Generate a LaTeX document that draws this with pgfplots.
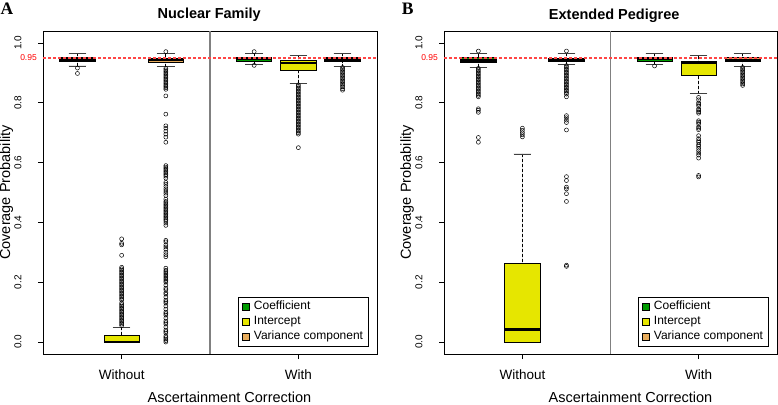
\documentclass[border=0pt]{standalone}
\usepackage{fontspec}
\setmainfont{Liberation Sans}
\newfontfamily\letterfont{Liberation Serif}
\usepackage{graphicx}
\usepackage{pgfplots}
\pgfplotsset{compat=1.18}
\usepgfplotslibrary{statistics}
\definecolor{cgreen}{RGB}{0,155,0}
\definecolor{cyellow}{RGB}{230,230,0}
\definecolor{ctan}{RGB}{232,172,92}
\definecolor{cdiv}{RGB}{128,128,128}
\definecolor{cred}{RGB}{255,70,70}

\pgfplotsset{
  sqleg/.style={legend image code/.code={\draw[##1,line width=0.5pt,solid] (0pt,-3.4pt) rectangle (6.8pt,3.4pt); \path[draw=none,fill=none] (-1pt,0pt) -- (9pt,0pt);}},
  bx/.style={draw=black, solid, line width=0.8pt, mark=o, mark size=2pt,
    mark options={draw=black, solid, line width=0.5pt}, forget plot},
  panel/.style={
    scale only axis, width=334pt, height=323pt,
    xmin=0.22, xmax=7.78, ymin=-0.04, ymax=1.04,
    clip=false,
    axis line style={black, line width=0.8pt},
    tick align=outside, major tick length=5pt,
    tick style={black, line width=0.7pt},
    xtick={2,6}, xticklabels={Without,With},
    ytick={0,0.2,0.4,0.6,0.8,1.0},
    xtick pos=left, ytick pos=left,
    scaled y ticks=false,
    /pgf/number format/assume math mode=true,
    yticklabel={\rotatebox{90}{\pgfmathprintnumber[fixed,fixed zerofill,precision=1,assume math mode=true]{\tick}}},
    yticklabel style={font=\fontsize{10}{12}\selectfont, anchor=east, xshift=-13pt},
    xticklabel style={font=\fontsize{13.5}{16}\selectfont, yshift=-7pt},
    legend cell align=left,
    legend style={at={(1,0)}, xshift=-8pt, yshift=7pt, anchor=south east, draw=black, line width=0.8pt, fill=white,
       font=\fontsize{12}{14}\selectfont, inner xsep=3pt, inner ysep=2pt, row sep=0pt,
       nodes={inner sep=2.5pt, text height=7.8pt, text depth=2.3pt}},
    boxplot/draw direction=y,
    boxplot/box extend=0.8,
    boxplot/whisker extend=0.4,
    boxplot/every median/.style={line width=2.4pt, draw=black},
    boxplot/draw/lower whisker/.code={%
      \draw[black, dash pattern=on 3pt off 2pt, line width=0.7pt]
        (boxplot box cs:\pgfplotsboxplotvalue{lower whisker},0.5) -- (boxplot box cs:\pgfplotsboxplotvalue{lower quartile},0.5);
      \draw[black!75, solid, line width=0.8pt]
        (boxplot whisker cs:\pgfplotsboxplotvalue{lower whisker},0) -- (boxplot whisker cs:\pgfplotsboxplotvalue{lower whisker},1);
    },
    boxplot/draw/upper whisker/.code={%
      \draw[black, dash pattern=on 3pt off 2pt, line width=0.7pt]
        (boxplot box cs:\pgfplotsboxplotvalue{upper whisker},0.5) -- (boxplot box cs:\pgfplotsboxplotvalue{upper quartile},0.5);
      \draw[black!75, solid, line width=0.8pt]
        (boxplot whisker cs:\pgfplotsboxplotvalue{upper whisker},0) -- (boxplot whisker cs:\pgfplotsboxplotvalue{upper whisker},1);
    },
  },
}

\begin{document}
\begin{tikzpicture}
\useasboundingbox (0,0) rectangle (778pt,404pt);

% ---------------- Panel A: Nuclear Family ----------------
\begin{axis}[panel, at={(43pt,50pt)}, anchor=south west]
\addlegendimage{sqleg, fill=cgreen, draw=black}\addlegendentry{Coefficient}
\addlegendimage{sqleg, fill=cyellow, draw=black}\addlegendentry{Intercept}
\addlegendimage{sqleg, fill=ctan, draw=black}\addlegendentry{Variance component}

\addplot[bx, fill=cgreen, boxplot prepared={draw position=1, lower whisker=0.923, lower quartile=0.937, median=0.945, upper quartile=0.952, upper whisker=0.966}]
  table[row sep=\\, y index=0] {v\\ 0.916\\ 0.898\\};
\addplot[bx, fill=cyellow, boxplot prepared={draw position=2, lower whisker=0, lower quartile=0, median=0, upper quartile=0.022, upper whisker=0.049}]
  table[row sep=\\, y index=0] {v\\ 0.055\\ 0.06\\ 0.065\\ 0.07\\ 0.075\\ 0.08\\ 0.085\\ 0.09\\ 0.095\\ 0.1\\ 0.105\\ 0.11\\ 0.115\\ 0.12\\ 0.125\\ 0.13\\ 0.14\\ 0.145\\ 0.15\\ 0.155\\ 0.16\\ 0.165\\ 0.17\\ 0.175\\ 0.18\\ 0.185\\ 0.19\\ 0.195\\ 0.2\\ 0.205\\ 0.21\\ 0.215\\ 0.22\\ 0.225\\ 0.23\\ 0.235\\ 0.24\\ 0.245\\ 0.25\\ 0.29\\ 0.325\\ 0.33\\ 0.345\\};
\addplot[bx, fill=ctan, boxplot prepared={draw position=3, lower whisker=0.921, lower quartile=0.934, median=0.943, upper quartile=0.950, upper whisker=0.964}]
  table[row sep=\\, y index=0] {v\\ 0.971\\ 0.915\\ 0.91\\ 0.905\\ 0.9\\ 0.895\\ 0.89\\ 0.885\\ 0.88\\ 0.875\\ 0.87\\ 0.865\\ 0.86\\ 0.855\\ 0.85\\ 0.845\\ 0.823\\ 0.762\\ 0.723\\ 0.715\\ 0.705\\ 0.695\\ 0.685\\ 0.668\\ 0.59\\ 0.585\\ 0.58\\ 0.575\\ 0.57\\ 0.565\\ 0.56\\ 0.555\\ 0.548\\ 0.534\\ 0.528\\ 0.52\\ 0.512\\ 0.505\\ 0.498\\ 0.49\\ 0.478\\ 0.47\\ 0.465\\ 0.46\\ 0.455\\ 0.45\\ 0.445\\ 0.44\\ 0.435\\ 0.43\\ 0.425\\ 0.42\\ 0.415\\ 0.41\\ 0.405\\ 0.398\\ 0.39\\ 0.34\\ 0.335\\ 0.325\\ 0.318\\ 0.31\\ 0.3\\ 0.292\\ 0.285\\ 0.247\\ 0.24\\ 0.235\\ 0.23\\ 0.225\\ 0.22\\ 0.215\\ 0.21\\ 0.205\\ 0.2\\ 0.19\\ 0.18\\ 0.175\\ 0.165\\ 0.16\\ 0.15\\ 0.14\\ 0.135\\ 0.13\\ 0.12\\ 0.11\\ 0.1\\ 0.095\\ 0.09\\ 0.08\\ 0.07\\ 0.065\\ 0.06\\ 0.05\\ 0.04\\ 0.035\\ 0.03\\ 0.02\\ 0.015\\ 0.01\\ 0.005\\ 0.0\\};
\addplot[bx, fill=cgreen, boxplot prepared={draw position=5, lower whisker=0.929, lower quartile=0.940, median=0.946, upper quartile=0.953, upper whisker=0.966}]
  table[row sep=\\, y index=0] {v\\ 0.971\\ 0.925\\};
\addplot[bx, fill=cyellow, boxplot prepared={draw position=6, lower whisker=0.865, lower quartile=0.909, median=0.932, upper quartile=0.942, upper whisker=0.958}]
  table[row sep=\\, y index=0] {v\\ 0.86\\ 0.855\\ 0.85\\ 0.845\\ 0.84\\ 0.835\\ 0.83\\ 0.825\\ 0.82\\ 0.815\\ 0.81\\ 0.805\\ 0.8\\ 0.795\\ 0.79\\ 0.785\\ 0.78\\ 0.775\\ 0.77\\ 0.765\\ 0.76\\ 0.755\\ 0.75\\ 0.745\\ 0.74\\ 0.735\\ 0.73\\ 0.725\\ 0.72\\ 0.715\\ 0.71\\ 0.705\\ 0.7\\ 0.695\\ 0.65\\};
\addplot[bx, fill=ctan, boxplot prepared={draw position=7, lower whisker=0.921, lower quartile=0.938, median=0.945, upper quartile=0.951, upper whisker=0.966}]
  table[row sep=\\, y index=0] {v\\ 0.918\\ 0.913\\ 0.908\\ 0.903\\ 0.898\\ 0.893\\ 0.888\\ 0.883\\ 0.878\\ 0.873\\ 0.868\\ 0.863\\ 0.858\\ 0.853\\ 0.847\\ 0.842\\};

\addplot[cdiv, line width=1.4pt, forget plot, mark=none] coordinates {(4,-0.04) (4,1.04)};
\addplot[draw=cred, line width=1.4pt, dash pattern=on 3pt off 2pt, forget plot, mark=none] coordinates {(0.22,0.95) (7.78,0.95)};
\node[anchor=east, text=red, inner sep=0pt, font=\fontsize{8.5}{10}\selectfont, xshift=-6pt] at (axis cs:0.22,0.95) {0.95};
\end{axis}

% ---------------- Panel B: Extended Pedigree ----------------
\begin{axis}[panel, width=333pt, at={(444pt,50pt)}, anchor=south west]
\addlegendimage{sqleg, fill=cgreen, draw=black}\addlegendentry{Coefficient}
\addlegendimage{sqleg, fill=cyellow, draw=black}\addlegendentry{Intercept}
\addlegendimage{sqleg, fill=ctan, draw=black}\addlegendentry{Variance component}

\addplot[bx, fill=cgreen, boxplot prepared={draw position=1, lower whisker=0.918, lower quartile=0.934, median=0.942, upper quartile=0.951, upper whisker=0.964}]
  table[row sep=\\, y index=0] {v\\ 0.973\\ 0.915\\ 0.91\\ 0.905\\ 0.9\\ 0.895\\ 0.89\\ 0.885\\ 0.88\\ 0.875\\ 0.87\\ 0.865\\ 0.86\\ 0.855\\ 0.85\\ 0.845\\ 0.84\\ 0.835\\ 0.83\\ 0.825\\ 0.82\\ 0.78\\ 0.775\\ 0.768\\ 0.684\\ 0.668\\};
\addplot[bx, fill=cyellow, boxplot prepared={draw position=2, lower whisker=0, lower quartile=0, median=0.042, upper quartile=0.262, upper whisker=0.629}]
  table[row sep=\\, y index=0] {v\\ 0.715\\ 0.708\\ 0.7\\ 0.693\\ 0.686\\};
\addplot[bx, fill=ctan, boxplot prepared={draw position=3, lower whisker=0.927, lower quartile=0.937, median=0.943, upper quartile=0.949, upper whisker=0.966}]
  table[row sep=\\, y index=0] {v\\ 0.973\\ 0.924\\ 0.919\\ 0.914\\ 0.909\\ 0.904\\ 0.899\\ 0.894\\ 0.889\\ 0.884\\ 0.879\\ 0.874\\ 0.869\\ 0.864\\ 0.859\\ 0.854\\ 0.849\\ 0.844\\ 0.839\\ 0.834\\ 0.829\\ 0.82\\ 0.757\\ 0.75\\ 0.742\\ 0.734\\ 0.709\\ 0.553\\ 0.54\\ 0.518\\ 0.512\\ 0.496\\ 0.47\\ 0.257\\ 0.253\\};
\addplot[bx, fill=cgreen, boxplot prepared={draw position=5, lower whisker=0.927, lower quartile=0.940, median=0.947, upper quartile=0.953, upper whisker=0.966}]
  table[row sep=\\, y index=0] {v\\ 0.923\\};
\addplot[bx, fill=cyellow, boxplot prepared={draw position=6, lower whisker=0.831, lower quartile=0.892, median=0.932, upper quartile=0.940, upper whisker=0.957}]
  table[row sep=\\, y index=0] {v\\ 0.818\\ 0.81\\ 0.8\\ 0.795\\ 0.79\\ 0.78\\ 0.775\\ 0.77\\ 0.765\\ 0.74\\ 0.735\\ 0.73\\ 0.72\\ 0.715\\ 0.71\\ 0.69\\ 0.68\\ 0.673\\ 0.668\\ 0.66\\ 0.655\\ 0.648\\ 0.64\\ 0.632\\ 0.625\\ 0.615\\ 0.557\\ 0.552\\};
\addplot[bx, fill=ctan, boxplot prepared={draw position=7, lower whisker=0.921, lower quartile=0.937, median=0.944, upper quartile=0.951, upper whisker=0.966}]
  table[row sep=\\, y index=0] {v\\ 0.918\\ 0.913\\ 0.908\\ 0.903\\ 0.898\\ 0.893\\ 0.888\\ 0.883\\ 0.878\\ 0.873\\ 0.868\\ 0.863\\ 0.858\\};

\addplot[cdiv, line width=1.4pt, forget plot, mark=none] coordinates {(4,-0.04) (4,1.04)};
\addplot[draw=cred, line width=1.4pt, dash pattern=on 3pt off 2pt, forget plot, mark=none] coordinates {(0.22,0.95) (7.78,0.95)};
\node[anchor=east, text=red, inner sep=0pt, font=\fontsize{8.5}{10}\selectfont, xshift=-6pt] at (axis cs:0.22,0.95) {0.95};
\end{axis}

% ---------------- Titles and labels ----------------
\node[anchor=base west, inner sep=0pt, font=\letterfont\bfseries\fontsize{17.5}{20}\selectfont] at (0.5pt,389pt) {A};
\node[anchor=base west, inner sep=0pt, font=\letterfont\bfseries\fontsize{17.5}{20}\selectfont] at (401.7pt,389pt) {B};
\node[anchor=base, inner sep=0pt, font=\bfseries\fontsize{14.5}{17}\selectfont] at (209.2pt,385pt) {Nuclear Family};
\node[anchor=base, inner sep=0pt, font=\bfseries\fontsize{14.5}{17}\selectfont] at (614.2pt,384.7pt) {Extended Pedigree};
\node[anchor=base, inner sep=0pt, font=\fontsize{14.5}{17}\selectfont] at (229.5pt,2pt) {Ascertainment Correction};
\node[anchor=base, inner sep=0pt, font=\fontsize{14.5}{17}\selectfont] at (630.5pt,2pt) {Ascertainment Correction};
\node[rotate=90, inner sep=0pt, font=\fontsize{14.5}{17}\selectfont] at (6.5pt,211.5pt) {Coverage Probability};
\node[rotate=90, inner sep=0pt, font=\fontsize{14.5}{17}\selectfont] at (407pt,211.5pt) {Coverage Probability};
\end{tikzpicture}
\end{document}
